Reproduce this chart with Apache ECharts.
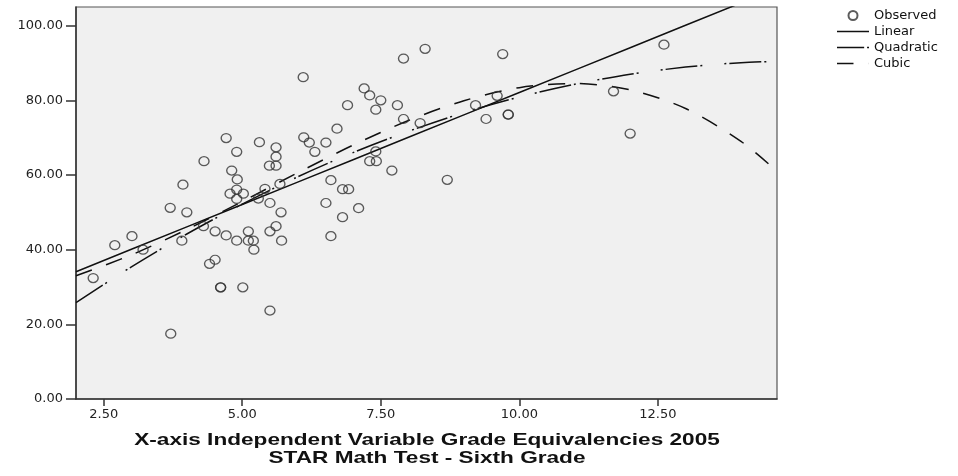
<!DOCTYPE html>
<html>
<head>
<meta charset="utf-8">
<script src="https://cdn.jsdelivr.net/npm/echarts@6/dist/echarts.min.js"></script>
<style>html,body{margin:0;padding:0;background:#fff}#c{width:958px;height:476px}</style>
</head>
<body>
<div id="c"></div>
<script>
// Observed points (x: grade equivalency, y: score)
const obsX = [2.31,2.70,3.01,3.21,3.70,3.71,3.93,3.91,4.00,4.31,4.30,4.41,4.51,4.51,4.61,4.61,4.71,4.71,4.81,4.90,4.91,4.90,4.78,5.02,4.90,4.90,5.01,5.11,5.11,5.20,5.21,5.31,5.29,5.41,5.49,5.61,5.50,5.50,5.61,5.61,5.50,5.61,5.68,5.70,5.71,6.10,6.11,6.21,6.31,6.51,6.51,6.60,6.60,6.71,6.81,6.81,6.92,6.90,7.10,7.20,7.30,7.30,7.42,7.41,7.41,7.50,7.70,7.80,7.91,7.91,8.21,8.30,8.70,9.21,9.40,9.60,9.70,9.80,9.80,11.70,12.00,12.61];
const obsY = [32.4,41.2,43.6,40.0,51.2,17.5,57.4,42.4,50.0,63.7,46.3,36.2,37.3,44.9,29.9,29.9,69.9,43.8,61.2,66.2,58.8,56.1,55.0,55.0,53.6,42.4,29.9,44.9,42.4,42.4,40.0,68.8,53.7,56.3,62.5,62.5,52.5,23.7,67.4,64.9,44.9,46.3,57.6,50.0,42.4,86.2,70.1,68.7,66.2,68.7,52.5,58.6,43.6,72.4,48.7,56.2,56.2,78.7,51.1,83.2,81.3,63.7,63.7,66.3,77.5,80.0,61.2,78.7,91.2,75.0,73.9,93.8,58.7,78.7,75.0,81.2,92.4,76.2,76.2,82.4,71.1,94.9];

// Fitted curves
const fitX = [2, 3, 4, 5, 6, 7, 8, 9, 10, 11, 12, 13, 14, 14.65];
const linearY = [34.1, 40.1, 46.1, 52.1, 58.1, 64.1, 70.1, 76.1, 82.1, 88.1, 94.1, 100.1, 106.1, 110.0];
const quadY = [25.8, 35.4, 44.2, 52.2, 59.5, 66.0, 71.7, 76.7, 80.9, 84.3, 87.0, 88.9, 90.1, 90.4];
const cubicY = [33.0, 38.6, 45.4, 52.9, 60.6, 68.0, 74.6, 79.9, 83.4, 84.5, 82.8, 77.8, 69.0, 61.0];

const xTicks = [2.5, 5, 7.5, 10, 12.5];
const yTicks = [0, 20, 40, 60, 80, 100];
const seriesNames = ['Observed', 'Linear', 'Quadratic', 'Cubic'];
const xTitle1 = 'X-axis Independent Variable Grade Equivalencies 2005';
const xTitle2 = 'STAR Math Test - Sixth Grade';

const pair = (xs, ys) => xs.map((x, i) => [x, ys[i]]);
const lbl = {fontFamily: 'DejaVu Sans', fontSize: 13, color: '#222'};

const chart = echarts.init(document.getElementById('c'), null, {renderer: 'canvas'});
chart.setOption({
  animation: false,
  backgroundColor: '#fff',
  grid: {left: 76, right: 181, top: 7, bottom: 77, show: true, backgroundColor: '#f0f0f0', borderColor: '#555', borderWidth: 1.2},
  xAxis: {
    type: 'value', min: 2, max: 14.65,
    axisLine: {show: true, onZero: false, lineStyle: {color: '#333', width: 1.5}},
    axisTick: {show: true, length: 7, customValues: xTicks, lineStyle: {color: '#333', width: 1.5}},
    axisLabel: Object.assign({margin: 9, customValues: xTicks, formatter: v => v.toFixed(2)}, lbl),
    splitLine: {show: false}
  },
  yAxis: {
    type: 'value', min: 0, max: 105,
    axisLine: {show: true, onZero: false, lineStyle: {color: '#333', width: 1.5}},
    axisTick: {show: true, length: 10, customValues: yTicks, lineStyle: {color: '#333', width: 1.5}},
    axisLabel: Object.assign({margin: 13, customValues: yTicks, formatter: v => v.toFixed(2)}, lbl),
    splitLine: {show: false}
  },
  legend: {
    data: [
      {name: seriesNames[0]},
      {name: seriesNames[1], icon: 'path://M0,0h32v1.5h-32z'},
      {name: seriesNames[2], icon: 'path://M0,0h28v1.5h-28z M31,0h2v1.5h-2z'},
      {name: seriesNames[3], icon: 'path://M0,0h17v1.5h-17z M32.9,0h0.1v1.5h-0.1z'}
    ],
    orient: 'vertical', left: 832, top: 4,
    itemWidth: 32, itemHeight: 9, itemGap: 3,
    textStyle: {fontFamily: 'DejaVu Sans', fontSize: 13, color: '#111'}
  },
  graphic: [
    {type: 'text', x: 427, y: 440, scaleX: 1.33, style: {text: xTitle1, font: 'bold 17px "Liberation Sans"', fill: '#111', textAlign: 'center', textVerticalAlign: 'middle'}},
    {type: 'text', x: 427, y: 458, scaleX: 1.33, style: {text: xTitle2, font: 'bold 17px "Liberation Sans"', fill: '#111', textAlign: 'center', textVerticalAlign: 'middle'}}
  ],
  series: [
    {name: 'Observed', type: 'scatter', data: pair(obsX, obsY), symbol: 'circle', symbolSize: [10, 9],
     itemStyle: {color: 'rgba(0,0,0,0)', borderColor: '#333', borderWidth: 1.3}, z: 3},
    {name: 'Linear', type: 'line', data: pair(fitX, linearY), symbol: 'none', clip: true,
     lineStyle: {color: '#111', width: 1.5, type: 'solid'}, itemStyle: {color: '#111'}},
    {name: 'Quadratic', type: 'line', data: pair(fitX, quadY), symbol: 'none', smooth: 0.3, clip: true,
     lineStyle: {color: '#111', width: 1.5, type: [32, 3, 2, 22, 2, 3]}, itemStyle: {color: '#111'}},
    {name: 'Cubic', type: 'line', data: pair(fitX, cubicY), symbol: 'none', smooth: 0.3, clip: true,
     lineStyle: {color: '#111', width: 1.5, type: [17, 15]}, itemStyle: {color: '#111'}}
  ]
});
</script>
</body>
</html>
